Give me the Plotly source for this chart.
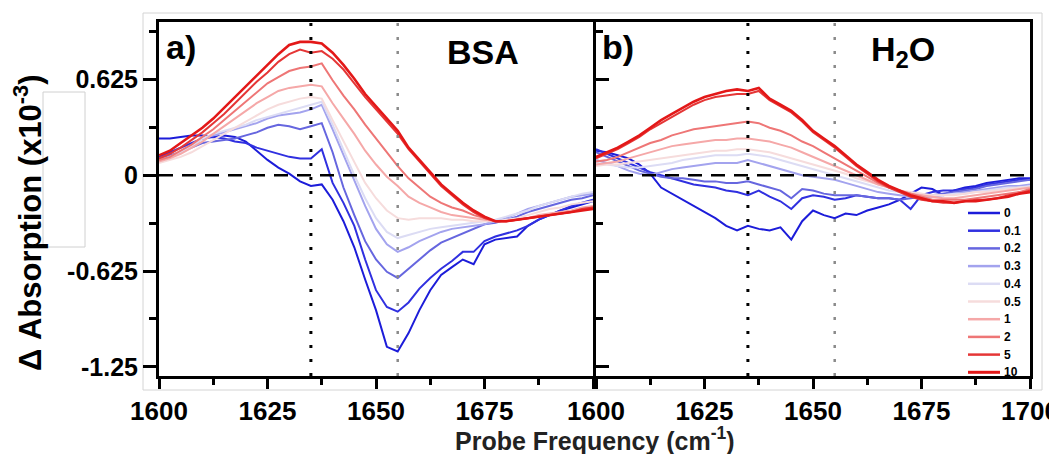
import plotly.graph_objects as go

# probe frequency grid (cm-1)
freq = [1600, 1602.5, 1605, 1607.5, 1610, 1612.5, 1615, 1617.5, 1620, 1622.5,
        1625, 1627.5, 1630, 1632.5, 1635, 1637.5, 1640, 1642.5, 1645, 1647.5,
        1650, 1652.5, 1655, 1657.5, 1660, 1662.5, 1665, 1667.5, 1670, 1672.5,
        1675, 1677.5, 1680, 1682.5, 1685, 1687.5, 1690, 1692.5, 1695, 1697.5, 1700]

conc_labels = ["0", "0.1", "0.2", "0.3", "0.4", "0.5", "1", "2", "5", "10"]
colors = ["#1c1cd9", "#3030e0", "#6666df", "#a3a3ee", "#dcdcf4",
          "#f6dcdc", "#f5a8a8", "#ee7676", "#e53636", "#e31818"]

# panel a) BSA  (x10^-3)
bsa_0 = [0.24, 0.24, 0.25, 0.26, 0.26, 0.25, 0.26, 0.25, 0.22, 0.16,
         0.10, 0.05, 0.01, -0.04, -0.07, -0.06, -0.16, -0.30, -0.47, -0.68,
         -0.88, -1.12, -1.15, -1.03, -0.88, -0.75, -0.65, -0.60, -0.55, -0.58,
         -0.45, -0.42, -0.41, -0.40, -0.33, -0.29, -0.26, -0.23, -0.21, -0.19, -0.17]
bsa_01 = [0.12, 0.15, 0.18, 0.21, 0.24, 0.25, 0.24, 0.22, 0.21, 0.18,
          0.16, 0.14, 0.12, 0.11, 0.11, 0.17, -0.05, -0.18, -0.33, -0.55,
          -0.75, -0.86, -0.89, -0.83, -0.74, -0.67, -0.61, -0.56, -0.50, -0.50,
          -0.43, -0.40, -0.38, -0.36, -0.33, -0.29, -0.26, -0.23, -0.20, -0.18, -0.16]
bsa_02 = [0.11, 0.13, 0.15, 0.18, 0.21, 0.22, 0.23, 0.24, 0.26, 0.28,
          0.31, 0.33, 0.32, 0.30, 0.32, 0.34, 0.15, -0.08, -0.26, -0.43,
          -0.55, -0.63, -0.67, -0.61, -0.55, -0.49, -0.44, -0.41, -0.38, -0.35,
          -0.32, -0.31, -0.29, -0.27, -0.24, -0.22, -0.20, -0.18, -0.16, -0.15, -0.13]
bsa_03 = [0.10, 0.12, 0.15, 0.19, 0.24, 0.26, 0.28, 0.30, 0.32, 0.34,
          0.37, 0.39, 0.40, 0.41, 0.43, 0.46, 0.30, 0.13, -0.03, -0.20,
          -0.35, -0.45, -0.50, -0.47, -0.43, -0.40, -0.37, -0.35, -0.34, -0.33,
          -0.32, -0.30, -0.28, -0.25, -0.22, -0.20, -0.18, -0.16, -0.14, -0.13, -0.12]
bsa_04 = [0.09, 0.12, 0.15, 0.19, 0.24, 0.27, 0.29, 0.31, 0.33, 0.36,
          0.38, 0.40, 0.42, 0.44, 0.46, 0.48, 0.33, 0.16, 0.00, -0.15,
          -0.28, -0.37, -0.41, -0.39, -0.37, -0.35, -0.34, -0.33, -0.32, -0.31,
          -0.30, -0.29, -0.27, -0.25, -0.23, -0.20, -0.18, -0.16, -0.14, -0.12, -0.11]
bsa_05 = [0.08, 0.10, 0.12, 0.15, 0.19, 0.23, 0.27, 0.31, 0.35, 0.39,
          0.43, 0.46, 0.48, 0.50, 0.51, 0.50, 0.36, 0.22, 0.08, -0.05,
          -0.15, -0.23, -0.28, -0.29, -0.28, -0.28, -0.28, -0.29, -0.29, -0.30,
          -0.30, -0.30, -0.29, -0.28, -0.26, -0.24, -0.22, -0.21, -0.19, -0.18, -0.17]
bsa_1 = [0.09, 0.11, 0.14, 0.18, 0.22, 0.27, 0.32, 0.37, 0.42, 0.47,
         0.51, 0.55, 0.57, 0.58, 0.59, 0.58, 0.47, 0.37, 0.27, 0.16,
         0.07, -0.01, -0.07, -0.14, -0.18, -0.21, -0.24, -0.26, -0.27, -0.28,
         -0.29, -0.30, -0.30, -0.29, -0.28, -0.26, -0.25, -0.24, -0.23, -0.21, -0.20]
bsa_2 = [0.10, 0.12, 0.16, 0.20, 0.25, 0.30, 0.36, 0.42, 0.48, 0.54,
         0.60, 0.64, 0.68, 0.70, 0.71, 0.73, 0.62, 0.52, 0.43, 0.33,
         0.24, 0.15, 0.06, -0.02, -0.08, -0.14, -0.18, -0.21, -0.23, -0.26,
         -0.28, -0.30, -0.30, -0.29, -0.28, -0.27, -0.26, -0.25, -0.24, -0.22, -0.21]
bsa_5 = [0.11, 0.14, 0.18, 0.23, 0.28, 0.34, 0.40, 0.47, 0.54, 0.61,
         0.67, 0.74, 0.79, 0.82, 0.80, 0.81, 0.76, 0.69, 0.60, 0.51,
         0.43, 0.35, 0.27, 0.17, 0.09, 0.01, -0.07, -0.13, -0.19, -0.24,
         -0.28, -0.30, -0.30, -0.29, -0.28, -0.27, -0.26, -0.25, -0.24, -0.22, -0.21]
bsa_10 = [0.13, 0.16, 0.21, 0.26, 0.31, 0.37, 0.44, 0.51, 0.58, 0.65,
          0.72, 0.79, 0.85, 0.87, 0.87, 0.86, 0.80, 0.72, 0.63, 0.53,
          0.45, 0.37, 0.29, 0.18, 0.10, 0.02, -0.06, -0.12, -0.18, -0.23,
          -0.27, -0.30, -0.30, -0.29, -0.28, -0.27, -0.26, -0.25, -0.24, -0.23, -0.22]

# panel b) H2O
h2o_0 = [0.16, 0.15, 0.13, 0.11, 0.07, 0.01, -0.08, -0.12, -0.16, -0.20,
         -0.24, -0.28, -0.33, -0.36, -0.33, -0.35, -0.36, -0.34, -0.42, -0.30,
         -0.23, -0.26, -0.28, -0.25, -0.26, -0.23, -0.21, -0.19, -0.16, -0.12,
         -0.08, -0.09, -0.13, -0.10, -0.08, -0.07, -0.05, -0.04, -0.03, -0.02, -0.02]
h2o_01 = [0.17, 0.14, 0.11, 0.08, 0.05, 0.02, 0.00, -0.02, -0.04, -0.06,
          -0.07, -0.08, -0.10, -0.11, -0.13, -0.10, -0.14, -0.17, -0.22, -0.15,
          -0.13, -0.14, -0.16, -0.15, -0.13, -0.14, -0.15, -0.15, -0.16, -0.22,
          -0.13, -0.11, -0.10, -0.10, -0.09, -0.08, -0.06, -0.05, -0.04, -0.03, -0.03]
h2o_02 = [0.15, 0.12, 0.09, 0.06, 0.03, 0.01, -0.01, -0.02, -0.02, -0.03,
          -0.04, -0.04, -0.05, -0.05, -0.04, -0.06, -0.08, -0.10, -0.15, -0.09,
          -0.10, -0.12, -0.13, -0.13, -0.13, -0.14, -0.15, -0.15, -0.16, -0.15,
          -0.14, -0.13, -0.12, -0.11, -0.10, -0.09, -0.07, -0.06, -0.05, -0.04, -0.03]
h2o_03 = [0.10, 0.08, 0.06, 0.03, 0.01, 0.00, 0.02, 0.04, 0.05, 0.06,
          0.07, 0.08, 0.08, 0.08, 0.10, 0.08, 0.06, 0.04, 0.02, 0.00,
          -0.01, -0.02, -0.03, -0.05, -0.07, -0.09, -0.11, -0.12, -0.13, -0.14,
          -0.14, -0.14, -0.13, -0.12, -0.11, -0.10, -0.09, -0.08, -0.07, -0.07, -0.06]
h2o_04 = [0.08, 0.07, 0.06, 0.05, 0.05, 0.06, 0.07, 0.08, 0.10, 0.11,
          0.12, 0.13, 0.13, 0.13, 0.14, 0.13, 0.12, 0.10, 0.08, 0.06,
          0.04, 0.02, 0.00, -0.02, -0.04, -0.06, -0.08, -0.10, -0.11, -0.12,
          -0.13, -0.13, -0.13, -0.12, -0.12, -0.11, -0.10, -0.09, -0.08, -0.08, -0.07]
h2o_05 = [0.06, 0.07, 0.07, 0.08, 0.09, 0.10, 0.11, 0.12, 0.13, 0.14,
          0.15, 0.16, 0.16, 0.17, 0.17, 0.16, 0.15, 0.13, 0.11, 0.09,
          0.07, 0.05, 0.03, 0.01, -0.02, -0.04, -0.06, -0.08, -0.10, -0.11,
          -0.12, -0.13, -0.13, -0.13, -0.12, -0.11, -0.11, -0.10, -0.09, -0.08, -0.08]
h2o_1 = [0.07, 0.08, 0.09, 0.11, 0.13, 0.15, 0.17, 0.19, 0.20, 0.21,
         0.22, 0.23, 0.23, 0.24, 0.24, 0.23, 0.22, 0.20, 0.18, 0.15,
         0.12, 0.09, 0.06, 0.03, 0.00, -0.03, -0.06, -0.08, -0.10, -0.12,
         -0.13, -0.14, -0.15, -0.15, -0.14, -0.13, -0.12, -0.11, -0.10, -0.09, -0.08]
h2o_2 = [0.09, 0.10, 0.12, 0.15, 0.18, 0.21, 0.23, 0.26, 0.28, 0.30,
         0.31, 0.32, 0.33, 0.34, 0.35, 0.34, 0.31, 0.29, 0.26, 0.22,
         0.19, 0.15, 0.11, 0.07, 0.03, -0.01, -0.05, -0.08, -0.10, -0.12,
         -0.14, -0.16, -0.16, -0.16, -0.16, -0.15, -0.14, -0.13, -0.12, -0.11, -0.09]
h2o_5 = [0.11, 0.14, 0.17, 0.21, 0.25, 0.30, 0.34, 0.38, 0.42, 0.46,
         0.49, 0.51, 0.52, 0.53, 0.53, 0.55, 0.49, 0.45, 0.41, 0.35,
         0.28, 0.23, 0.18, 0.12, 0.06, 0.01, -0.04, -0.08, -0.11, -0.14,
         -0.16, -0.17, -0.18, -0.18, -0.17, -0.16, -0.16, -0.15, -0.13, -0.12, -0.10]
h2o_10 = [0.12, 0.15, 0.18, 0.22, 0.26, 0.31, 0.36, 0.40, 0.44, 0.48,
          0.51, 0.53, 0.55, 0.56, 0.55, 0.57, 0.50, 0.46, 0.42, 0.36,
          0.29, 0.24, 0.19, 0.13, 0.07, 0.02, -0.03, -0.07, -0.10, -0.13,
          -0.15, -0.17, -0.17, -0.18, -0.17, -0.17, -0.16, -0.15, -0.14, -0.12, -0.11]

bsa = [bsa_0, bsa_01, bsa_02, bsa_03, bsa_04, bsa_05, bsa_1, bsa_2, bsa_5, bsa_10]
h2o = [h2o_0, h2o_01, h2o_02, h2o_03, h2o_04, h2o_05, h2o_1, h2o_2, h2o_5, h2o_10]

y_ticks = [-1.25, -0.625, 0, 0.625]
y_tick_text = ["-1.25", "-0.625", "0", "0.625"]
marker_lines = [1635, 1655]

# the page puts the plot 8px in from the corner, so the figure is 8px smaller
OFF = 8
W, H = 1057 - OFF, 454 - OFF
FONT = "Liberation Sans"


def px(x):
    return (x - OFF) / W


def py(y):
    return 1 - (y - OFF) / H


fig = go.Figure()
for i, lab in enumerate(conc_labels):
    lw = 2.6 if lab == "10" else 2
    fig.add_trace(go.Scatter(x=freq, y=bsa[i], mode="lines", name=lab, showlegend=False,
                             line=dict(color=colors[i], width=lw), xaxis="x", yaxis="y"))
    fig.add_trace(go.Scatter(x=freq, y=h2o[i], mode="lines", name=lab, showlegend=False,
                             line=dict(color=colors[i], width=lw), xaxis="x2", yaxis="y2"))

xcommon = dict(range=[1600, 1700], ticks="outside", ticklen=10, automargin=False,
               tickwidth=3, tickcolor="black", showline=True, linewidth=3,
               linecolor="black", mirror=True, showgrid=False, zeroline=False,
               ticklabeloverflow="allow",
               tickfont=dict(family=FONT, size=26, color="black", weight="bold"),
               minor=dict(dtick=12.5, ticks="outside", ticklen=6, tickwidth=2.5,
                          tickcolor="black"))
ycommon = dict(range=[-1.31, 1.0], tickvals=y_ticks, ticktext=y_tick_text,
               showline=True, linewidth=3, linecolor="black", showgrid=False,
               zeroline=False, automargin=False,
               tickfont=dict(family=FONT, size=25, color="black", weight="bold"))

fig.update_layout(
    width=W, height=H, margin=dict(l=0, r=0, t=0, b=0, autoexpand=False),
    paper_bgcolor="white", plot_bgcolor="white",
    xaxis=dict(domain=[px(159), px(593)], anchor="y",
               tickvals=[1600, 1625, 1650, 1675, 1700],
               ticktext=["1600", "1625", "1650", "1675", ""], **xcommon),
    xaxis2=dict(domain=[px(596), px(1030)], anchor="y2",
                tickvals=[1600, 1625, 1650, 1675, 1700],
                ticktext=["1600", "1625", "1650", "1675", "1700"], **xcommon),
    yaxis=dict(domain=[py(376), py(22)], anchor="x", ticks="outside", ticklen=13,
               tickwidth=3, tickcolor="black", mirror="ticks",
               minor=dict(dtick=0.3125, tick0=0, ticks="outside", ticklen=7,
                          tickwidth=2.5, tickcolor="black"),
               **ycommon),
    yaxis2=dict(domain=[py(376), py(22)], anchor="x2", ticks="", mirror=True,
                showticklabels=False, **ycommon),
)

shapes = []
for xr, yr in (("x", "y"), ("x2", "y2")):
    shapes.append(dict(type="line", xref=xr + " domain", yref=yr, x0=0, x1=1, y0=0, y1=0,
                       line=dict(color="black", width=2.5, dash="14px,9px")))
    shapes.append(dict(type="line", xref=xr, yref=yr + " domain", x0=marker_lines[0],
                       x1=marker_lines[0], y0=0, y1=1,
                       line=dict(color="black", width=3, dash="3px,11px")))
    shapes.append(dict(type="line", xref=xr, yref=yr + " domain", x0=marker_lines[1],
                       x1=marker_lines[1], y0=0, y1=1,
                       line=dict(color="#8a8a8a", width=2.5, dash="3px,11px")))

# outer light frame and stray box from the original figure
shapes.append(dict(type="rect", xref="paper", yref="paper", x0=px(143), x1=px(1042),
                   y0=py(390), y1=py(13), line=dict(color="#d4d4d4", width=1), layer="below"))
shapes.append(dict(type="rect", xref="paper", yref="paper", x0=px(43), x1=px(85),
                   y0=py(247), y1=py(92), line=dict(color="#d0d0d0", width=1),
                   fillcolor="white"))

annotations = []
# hand-drawn legend (compact, like the original)
for i, lab in enumerate(conc_labels):
    yy = 213 + i * 17.7
    shapes.append(dict(type="line", xref="paper", yref="paper", x0=px(968), x1=px(1000),
                       y0=py(yy), y1=py(yy),
                       line=dict(color=colors[i], width=3 if lab == "10" else 2.5)))
    annotations.append(dict(x=px(1002), y=py(yy), xref="paper", yref="paper", text=lab,
                            showarrow=False, xanchor="left", yanchor="middle",
                            font=dict(family=FONT, size=12, color="black", weight="bold")))

annotations += [
    dict(x=px(164), y=py(47), text="a)", xanchor="left"),
    dict(x=px(600), y=py(47), text="b)", xanchor="left"),
    dict(x=px(483), y=py(52), text="BSA", xanchor="center"),
    dict(x=px(903), y=py(52), text="H<sub>2</sub>O", xanchor="center"),
]
for a in annotations[-4:]:
    a.update(xref="paper", yref="paper", showarrow=False, yanchor="middle",
             font=dict(family=FONT, size=34, color="black", weight="bold"))

annotations += [
    dict(x=px(595), y=py(439), xref="paper", yref="paper", showarrow=False,
         text="Probe Frequency (cm<sup>-1</sup>)", xanchor="center", yanchor="middle",
         font=dict(family=FONT, size=25, color="#222222", weight="bold")),
    dict(x=px(28), y=py(223), xref="paper", yref="paper", showarrow=False,
         text="Δ Absorption (x10<sup>-3</sup>)", textangle=-90,
         xanchor="center", yanchor="middle",
         font=dict(family=FONT, size=31, color="black", weight="bold")),
]

fig.update_layout(shapes=shapes, annotations=annotations)
fig.write_html("out.html")
